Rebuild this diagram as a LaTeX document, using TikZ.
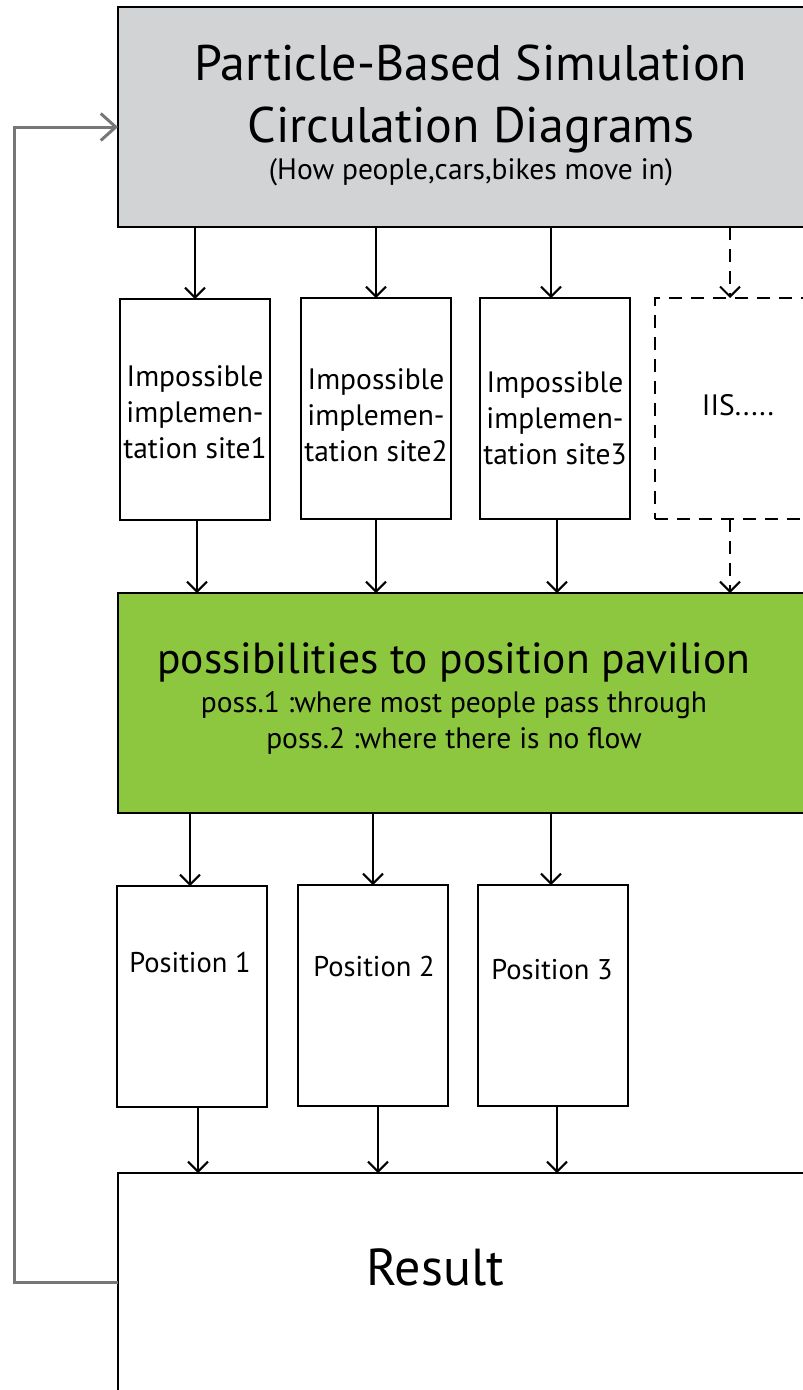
\documentclass[tikz,border=0pt]{standalone}
\usepackage{fontspec}
\setmainfont{PT Sans}
\usetikzlibrary{arrows.meta,positioning}

\definecolor{simgray}{HTML}{D1D3D4}
\definecolor{possgreen}{HTML}{8DC63F}
\definecolor{loopgray}{HTML}{777777}

\begin{document}
\begin{tikzpicture}[
    x=1pt, y=-1pt,
    >={Straight Barb[length=10pt,width=20pt]},
    box/.style={draw=black, line width=2pt, inner sep=0pt, outer sep=0pt, anchor=north west},
    site box/.style={box, minimum width=150pt, minimum height=221pt},
    site text/.style={anchor=base, font=\fontsize{29.5}{34}\selectfont},
    flow/.style={->, line width=2pt},
    dashed flow/.style={flow, dash pattern=on 13pt off 9pt},
    loop back/.style={-{Straight Barb[length=15pt,width=27pt]}, line width=3pt, color=loopgray},
]

\useasboundingbox (0,0) rectangle (803,1390);
\clip (0,0) rectangle (803,1390);

% === Simulation (top) ===
\node[box, fill=simgray, minimum width=720pt, minimum height=220pt] (sim) at (118,7) {};
\node[anchor=base, font=\fontsize{50}{56}\selectfont] (sim line1) at (471,80) {Particle-Based Simulation};
\node[anchor=base, font=\fontsize{50}{56}\selectfont] (sim line2) at (471,142) {Circulation Diagrams};
\node[site text] (sim line3) at (471,179) {(How people,cars,bikes move in)};

% === Impossible implementation sites ===
\node[site box] (site1) at (120,299) {};
\node[site box] (site2) at (301,298) {};
\node[site box] (site3) at (480,298) {};
\node[box, dash pattern=on 13pt off 9pt, minimum width=200pt, minimum height=221pt] (iis) at (655,298) {};

\node[site text] (site1 a) at (195,386) {Impossible};
\node[site text] (site1 b) at (195,422) {implemen-};
\node[site text] (site1 c) at (195,458) {tation site1};
\node[site text] (site2 a) at (376,389) {Impossible};
\node[site text] (site2 b) at (376,425) {implemen-};
\node[site text] (site2 c) at (376,461) {tation site2};
\node[site text] (site3 a) at (555,392) {Impossible};
\node[site text] (site3 b) at (555,428) {implemen-};
\node[site text] (site3 c) at (555,464) {tation site3};
\node[site text] (iis text) at (738,415) {IIS.....};

\draw[flow] (sim.south -| site1.north) -- (site1.north);
\draw[flow] (sim.south -| site2.north) -- (site2.north);
\draw[flow] ([xshift=-4pt]site3.north |- sim.south) -- ([xshift=-4pt]site3.north);
\draw[dashed flow] ([xshift=-25pt]iis.north |- sim.south) -- ([xshift=-25pt]iis.north);

% === Possibilities (green) ===
\node[box, fill=possgreen, minimum width=720pt, minimum height=220pt] (poss) at (118,593) {};
\node[anchor=base, font=\fontsize{43.5}{50}\selectfont] (poss line1) at (454,673) {possibilities to position pavilion};
\node[site text] (poss line2) at (454,712) {poss.1 :where most people pass through};
\node[site text] (poss line3) at (454,748) {poss.2 :where there is no flow};

\draw[flow] ([xshift=2pt]site1.south) -- ([xshift=2pt]site1.south |- poss.north);
\draw[flow] (site2.south) -- (site2.south |- poss.north);
\draw[flow] ([xshift=2pt]site3.south) -- ([xshift=2pt]site3.south |- poss.north);
\draw[dashed flow] ([xshift=-25pt]iis.south) -- ([xshift=-25pt]iis.south |- poss.north);

% === Positions ===
\node[site box] (pos1) at (117,886) {};
\node[site box] (pos2) at (298,885) {};
\node[site box] (pos3) at (478,885) {};

\node[site text, font=\fontsize{28.5}{34}\selectfont] (pos1 text) at (190,972) {Position 1};
\node[site text, font=\fontsize{28.5}{34}\selectfont] (pos2 text) at (374,976) {Position 2};
\node[site text, font=\fontsize{28.5}{34}\selectfont] (pos3 text) at (552,979) {Position 3};

\draw[flow] ([xshift=-2pt]pos1.north |- poss.south) -- ([xshift=-2pt]pos1.north);
\draw[flow] (poss.south -| pos2.north) -- (pos2.north);
\draw[flow] ([xshift=-2pt]pos3.north |- poss.south) -- ([xshift=-2pt]pos3.north);

% === Result ===
\node[box, minimum width=720pt, minimum height=218pt] (result) at (118,1173) {};
\node[anchor=base, font=\fontsize{52}{58}\selectfont] (result text) at (435,1285) {Result};

\draw[flow] ([xshift=6pt]pos1.south) -- ([xshift=6pt]pos1.south |- result.north);
\draw[flow] ([xshift=5pt]pos2.south) -- ([xshift=5pt]pos2.south |- result.north);
\draw[flow] ([xshift=4pt]pos3.south) -- ([xshift=4pt]pos3.south |- result.north);

% Feedback loop
\draw[loop back] (result.west) -- ++(-104,0) |- ([yshift=-10pt]sim.west);

\end{tikzpicture}
\end{document}
